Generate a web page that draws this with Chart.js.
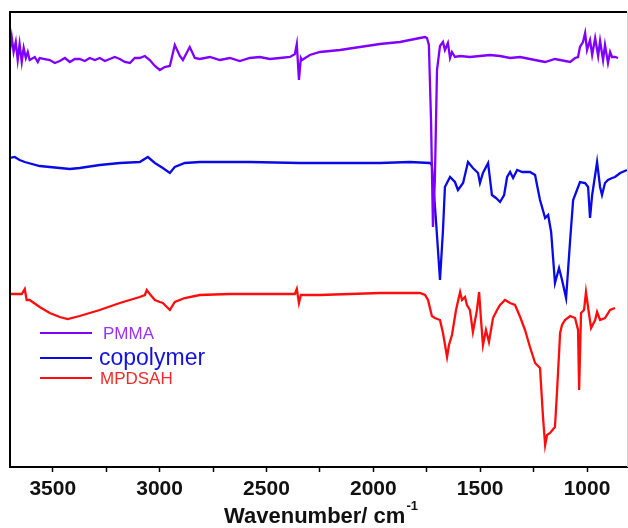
<!DOCTYPE html>
<html>
<head>
<meta charset="utf-8">
<script src="https://cdn.jsdelivr.net/npm/chart.js@4"></script>
<style>
  html, body { margin: 0; padding: 0; background: #fff; }
  #wrap { width: 628px; height: 528px; }
</style>
</head>
<body>
<div id="wrap"><canvas id="ftir"></canvas></div>
<script>
// wavenumber (cm-1) and offset signal (arbitrary units)
const pmmaWave = [3700,3692,3683,3673,3664,3655,3645,3636,3626,3617,3608,3584,3570,3561,3514,3490,3467,3443,3420,3397,3374,3350,3327,3303,3280,3256,3233,3210,3186,3163,3139,3116,3093,3069,3046,3022,2999,2976,2952,2929,2905,2891,2859,2835,2812,2765,2718,2671,2625,2578,2531,2484,2437,2390,2367,2358,2348,2339,2334,2297,2250,2156,2063,1969,1875,1829,1782,1758,1749,1740,1730,1721,1712,1702,1688,1674,1665,1651,1641,1632,1618,1594,1548,1501,1454,1407,1360,1313,1267,1220,1196,1150,1126,1079,1056,1042,1033,1019,1009,1000,986,976,962,948,939,925,916,902,892,883,869,855];
const pmmaSignal = [417,430,415,425,407,423,405,419,409,415,407,410,405,409,407,404,406,409,405,408,408,406,409,407,409,406,408,410,408,405,404,409,409,411,407,401,397,400,401,422,411,407,420,409,408,410,407,409,406,409,410,408,409,410,413,423,387,409,407,412,415,417,420,423,425,427,429,430,429,422,347,240,287,397,421,425,417,424,409,415,410,411,410,411,412,411,409,410,408,406,405,408,407,405,409,410,420,425,434,417,427,412,429,411,426,407,422,404,415,410,410,409];

const copoWave = [3700,3678,3655,3631,3561,3467,3420,3374,3280,3186,3093,3055,3022,2985,2952,2929,2882,2812,2578,2344,1969,1829,1735,1726,1707,1688,1674,1665,1641,1618,1604,1580,1557,1534,1510,1501,1487,1463,1445,1426,1407,1388,1374,1360,1346,1327,1303,1267,1243,1234,1220,1196,1182,1168,1150,1131,1117,1098,1079,1065,1047,1033,1009,995,986,976,962,953,939,930,916,902,883,869,845,813];
const copoSignal = [309,310,307,305,301,299,298,299,302,304,305,310,304,299,294,300,304,305,305,304,304,305,304,302,247,187,237,280,290,285,277,284,305,299,294,284,294,304,272,269,265,272,290,295,289,297,295,295,292,282,267,249,252,235,184,199,187,169,227,267,277,285,284,280,249,272,292,305,280,272,284,287,289,290,294,297];

const mpdsahWave = [3700,3645,3631,3622,3608,3561,3514,3467,3430,3374,3280,3186,3093,3069,3060,3046,3022,2999,2985,2952,2929,2882,2812,2671,2531,2367,2358,2348,2339,2250,1969,1782,1758,1744,1726,1712,1688,1674,1655,1646,1632,1613,1594,1585,1571,1562,1548,1534,1515,1505,1496,1487,1473,1459,1440,1421,1407,1384,1360,1337,1313,1290,1267,1243,1220,1206,1196,1187,1173,1150,1140,1126,1117,1103,1079,1056,1042,1037,1028,1014,1005,990,981,962,953,939,916,892,869];
const mpdsahSignal = [173,173,178,167,167,160,154,150,148,151,157,164,170,172,177,173,167,165,164,157,165,169,172,173,173,173,178,164,172,172,174,174,172,167,151,149,147,134,110,122,132,157,175,167,170,162,157,135,157,175,147,122,137,125,149,157,162,167,164,162,150,137,120,104,99,50,22,32,34,40,77,134,142,147,151,149,137,77,154,157,175,152,139,147,155,147,149,157,159];

const seriesNames = ['PMMA', 'copolymer', 'MPDSAH'];
const lineColors = ['#8000ff', '#0a0ae6', '#ff0d0d'];
const textColors = ['#9a33f5', '#1212dd', '#ee2a2a'];
const xTickStep = 250;

function pairs(xs, ys) {
  return xs.map((x, i) => ({ x: x, y: ys[i] }));
}

// frame, legend and axis title with superscript
const decor = {
  id: 'decor',
  afterDraw(chart) {
    const c = chart.ctx, a = chart.chartArea;
    c.save();
    c.strokeStyle = '#000';
    c.lineWidth = 2;
    c.beginPath();
    c.moveTo(a.left, a.bottom);
    c.lineTo(a.left, a.top);
    c.lineTo(a.right, a.top);
    c.stroke();
    c.strokeStyle = '#d0d0d0';
    c.lineWidth = 1;
    c.beginPath();
    c.moveTo(a.right + 0.5, a.top);
    c.lineTo(a.right + 0.5, a.bottom);
    c.stroke();

    // legend
    const rows = [
      { y: a.top + 321, size: 17, tx: 103 },
      { y: a.top + 346, size: 23, tx: 99 },
      { y: a.top + 366, size: 17, tx: 100 }
    ];
    rows.forEach((r, i) => {
      c.strokeStyle = lineColors[i];
      c.lineWidth = 2;
      c.beginPath();
      c.moveTo(a.left + 30, r.y);
      c.lineTo(a.left + 82, r.y);
      c.stroke();
      c.fillStyle = textColors[i];
      c.font = r.size + 'px "Liberation Sans", Arial, sans-serif';
      c.textBaseline = 'middle';
      c.textAlign = 'left';
      c.fillText(chart.data.datasets[i].label, r.tx, r.y + 1);
    });

    // x axis title
    c.fillStyle = '#111';
    c.textBaseline = 'alphabetic';
    c.font = 'bold 22px "Liberation Sans", Arial, sans-serif';
    const main = 'Wavenumber/ cm';
    const w = c.measureText(main).width;
    c.font = 'bold 13px "Liberation Sans", Arial, sans-serif';
    const sw = c.measureText('-1').width;
    const x0 = (a.left + a.right) / 2 - (w + sw) / 2 + 2;
    c.font = 'bold 22px "Liberation Sans", Arial, sans-serif';
    c.fillText(main, x0, 523);
    c.font = 'bold 13px "Liberation Sans", Arial, sans-serif';
    c.fillText('-1', x0 + w + 1, 510);
    c.restore();
  }
};

const ctx = document.getElementById('ftir').getContext('2d');
new Chart(ctx, {
  type: 'line',
  data: {
    datasets: [
      { label: seriesNames[0], data: pairs(pmmaWave, pmmaSignal), borderColor: lineColors[0] },
      { label: seriesNames[1], data: pairs(copoWave, copoSignal), borderColor: lineColors[1] },
      { label: seriesNames[2], data: pairs(mpdsahWave, mpdsahSignal), borderColor: lineColors[2] }
    ]
  },
  options: {
    responsive: true,
    maintainAspectRatio: false,
    animation: false,
    layout: { padding: { top: 12, left: 10, right: 1, bottom: 0 } },
    elements: {
      point: { radius: 0 },
      line: { borderWidth: 2.3, tension: 0 }
    },
    plugins: {
      legend: { display: false },
      tooltip: { enabled: false }
    },
    scales: {
      x: {
        type: 'linear',
        reverse: true,
        min: 813,
        max: 3700,
        border: { color: '#000', width: 2 },
        grid: { drawOnChartArea: false, color: '#000', tickLength: 5, tickWidth: 1.5 },
        ticks: {
          stepSize: xTickStep,
          includeBounds: false,
          autoSkip: false,
          maxRotation: 0,
          padding: 5,
          color: '#111',
          font: { family: '"Liberation Sans", Arial, sans-serif', size: 21, weight: 'bold' },
          callback: v => (v % 500 === 0 ? String(v) : '')
        },
        afterFit(scale) { scale.height = 61; }
      },
      y: { display: false, min: 0, max: 455 }
    }
  },
  plugins: [decor]
});
</script>
</body>
</html>
